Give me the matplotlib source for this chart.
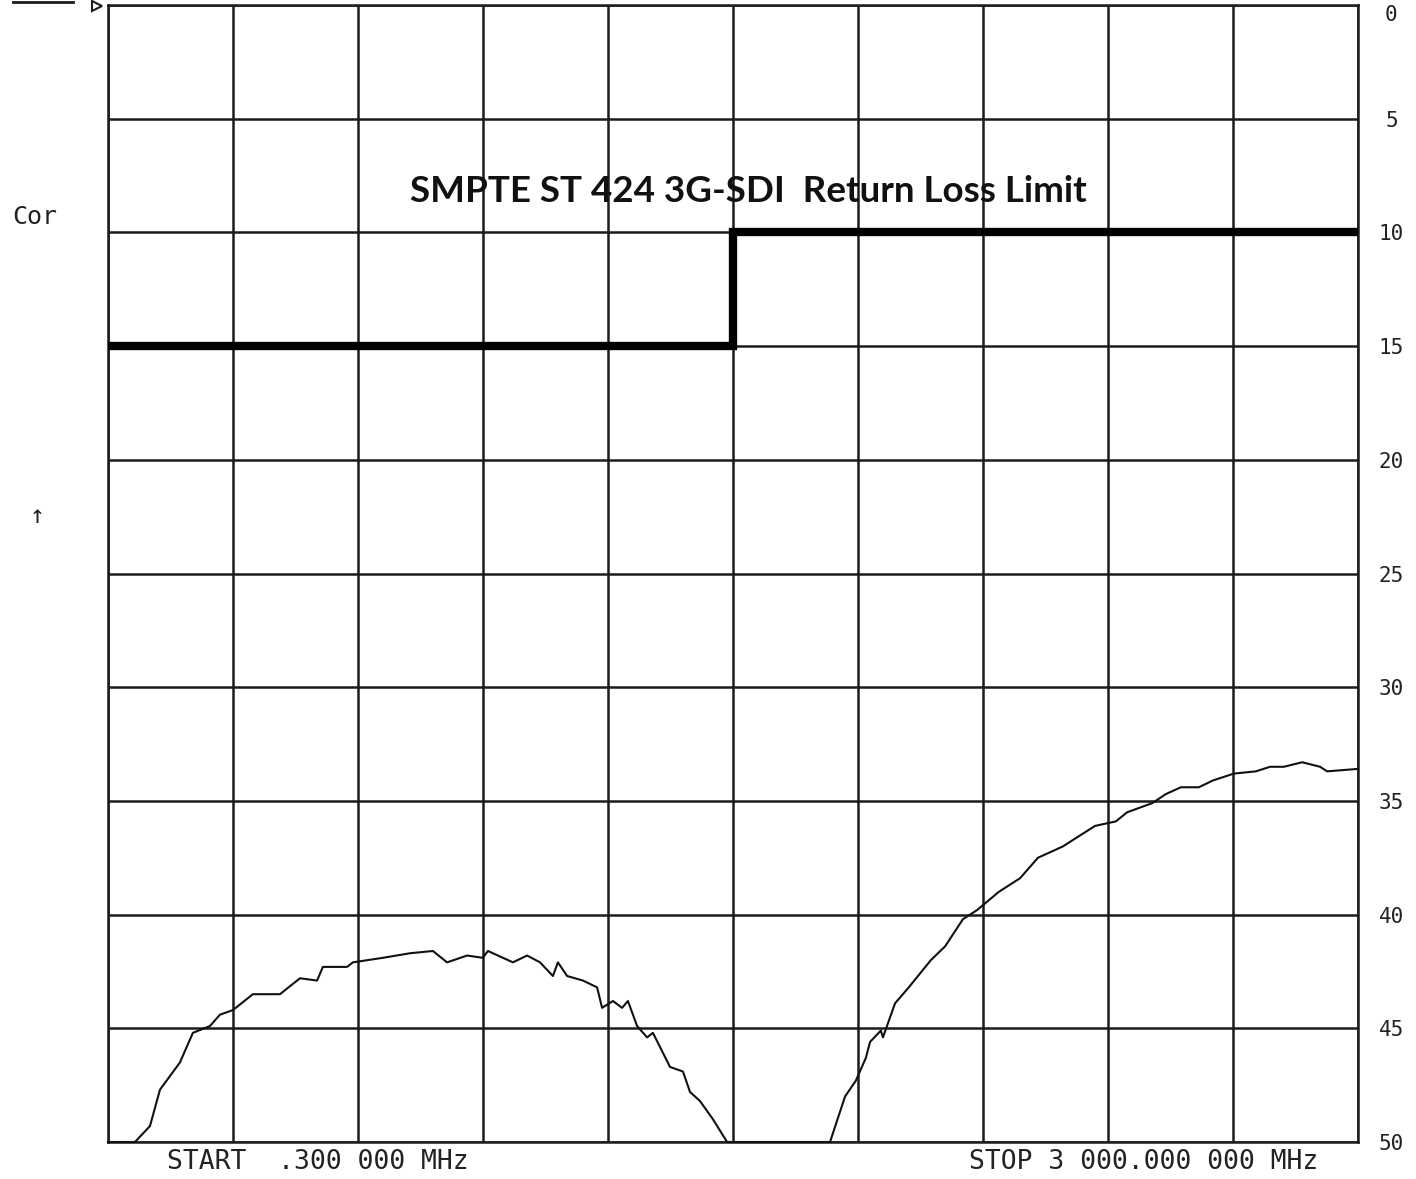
import numpy as np
import matplotlib
matplotlib.use("Agg")
import matplotlib.pyplot as plt
from matplotlib.lines import Line2D

# sweep settings (MHz) and return loss scale (dB)
f_start = 0.3
f_stop = 3000.0
db_ticks = [0, 5, 10, 15, 20, 25, 30, 35, 40, 45, 50]

# SMPTE ST 424 limit: 15 dB up to 1.5 GHz, 10 dB above
limit_freq = [0.3, 1500.0, 1500.0, 3000.0]
limit_db = [15, 15, 10, 10]

trace_freq = [0.3, 65, 101, 125, 173, 204, 245, 269, 300, 348, 413, 461, 502, 516,
              574, 588, 660, 725, 780, 814, 862, 900, 912, 972, 1006, 1037, 1068,
              1080, 1102, 1140, 1174, 1186, 1212, 1234, 1248, 1270, 1294, 1308,
              1349, 1380, 1397, 1421, 1452, 1486, 1733, 1769, 1795, 1819, 1829,
              1855, 1860, 1889, 1922, 1975, 2009, 2052, 2086, 2138, 2189, 2232,
              2292, 2326, 2369, 2419, 2446, 2506, 2539, 2575, 2618, 2652, 2702,
              2755, 2789, 2822, 2866, 2909, 2926, 2995, 3000]
trace_db = [50, 50, 49.3, 47.7, 46.5, 45.2, 44.9, 44.4, 44.2, 43.5, 43.5, 42.8, 42.9,
            42.3, 42.3, 42.1, 41.9, 41.7, 41.6, 42.1, 41.8, 41.9, 41.6, 42.1, 41.8,
            42.1, 42.7, 42.1, 42.7, 42.9, 43.2, 44.1, 43.8, 44.1, 43.8, 44.9, 45.4,
            45.2, 46.7, 46.9, 47.8, 48.2, 49.0, 50, 50, 48.0, 47.3, 46.3, 45.6,
            45.1, 45.4, 43.9, 43.2, 42.0, 41.4, 40.2, 39.8, 39.0, 38.4, 37.5, 37.0,
            36.6, 36.1, 35.9, 35.5, 35.1, 34.7, 34.4, 34.4, 34.1, 33.8, 33.7, 33.5,
            33.5, 33.3, 33.5, 33.7, 33.6, 33.6]

grid_col = "#1c1c1c"
mono = ["DejaVu Sans Mono"]

fig = plt.figure(figsize=(14.16, 11.79), dpi=100)
ax = fig.add_axes([108 / 1416, 1 - 1142 / 1179, 1250 / 1416, 1137 / 1179])

ax.set_xlim(f_start, f_stop)
ax.set_ylim(50, 0)
ax.set_xticks(np.linspace(f_start, f_stop, 11))
ax.set_yticks(db_ticks)
ax.set_xticklabels([])
ax.yaxis.tick_right()
ax.tick_params(axis="both", length=0)
ax.tick_params(axis="y", pad=24, labelsize=15, labelcolor="#222222")
for lbl in ax.get_yticklabels():
    lbl.set_horizontalalignment("center")
    lbl.set_family(mono)
ax.get_yticklabels()[0].set_verticalalignment("top")
ax.grid(True, color=grid_col, lw=1.8)
for s in ax.spines.values():
    s.set_color(grid_col)
    s.set_linewidth(1.8)

ax.plot(limit_freq, limit_db, color="black", lw=6, solid_capstyle="butt",
        solid_joinstyle="miter", zorder=4)
ax.plot(trace_freq, trace_db, color="#111111", lw=1.5, clip_on=False, zorder=5)

ax.text(1538, 8.2, "SMPTE ST 424 3G-SDI  Return Loss Limit", ha="center", va="center",
        fontsize=26.5, fontweight="bold", color="#111111",
        family=["Lato", "DejaVu Sans"], zorder=6)

# analyzer screen annotations
fig.text(12 / 1416, 1 - 217 / 1179, "Cor", fontsize=18, family=mono, color="#222222",
         ha="left", va="center")
fig.text(37 / 1416, 1 - 516 / 1179, "\u2191", fontsize=18, family=mono, color="#222222",
         ha="center", va="center")
fig.text(167 / 1416, 1 - 1162 / 1179, "START  .300 000 MHz", fontsize=19, family=mono,
         color="#222222", ha="left", va="center")
fig.text(1318 / 1416, 1 - 1162 / 1179, "STOP 3 000.000 000 MHz", fontsize=19, family=mono,
         color="#222222", ha="right", va="center")
fig.add_artist(Line2D([13 / 1416, 73 / 1416], [1 - 1.5 / 1179, 1 - 1.5 / 1179],
                      color=grid_col, lw=2))
fig.add_artist(Line2D([97 / 1416], [1 - 6 / 1179], marker=">", markersize=7,
                      markerfacecolor="none", markeredgecolor=grid_col, markeredgewidth=1.5))

fig.savefig("out.png", dpi=100, facecolor="white")
